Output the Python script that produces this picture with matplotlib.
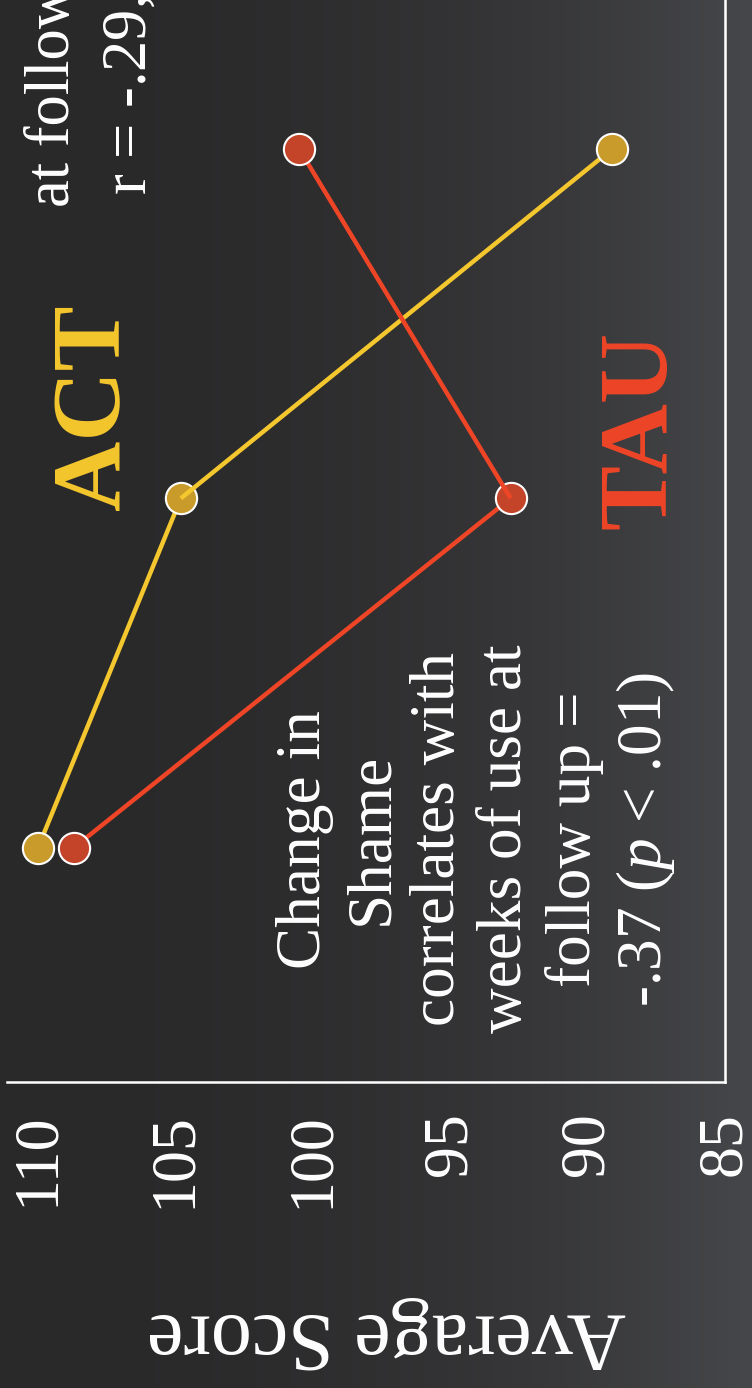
import numpy as np
import matplotlib
matplotlib.use("Agg")
import matplotlib.pyplot as plt

# ---------------- data ----------------
timepoints = [0, 1, 2]                 # assessment occasions (baseline, post, follow-up)
act_scores = [110.0, 104.8, 89.1]      # ACT group average score
tau_scores = [108.7, 92.8, 100.5]      # TAU group average score
score_ticks = [110, 105, 100, 95, 90, 85]
score_tick_labels = ["110", "105", "100", "95", "90", "85"]
group_names = ["ACT", "TAU"]
note_main = "Change in\nShame\ncorrelates with\nweeks of use at\nfollow up =\n-.37 ($p$ < .01)"
note_top_line1 = "at follow up"
note_top_line2 = "r = -.29, ($p$ < .05)"

# ---------------- style ----------------
ACT_LINE = "#F5C72E"
ACT_FILL = "#C99B2B"
TAU_LINE = "#EE4527"
TAU_FILL = "#C4442A"
SERIF = ["Liberation Serif", "DejaVu Serif"]
plt.rcParams["font.family"] = SERIF
plt.rcParams["mathtext.fontset"] = "custom"
plt.rcParams["mathtext.it"] = "Liberation Serif:italic"
plt.rcParams["mathtext.rm"] = "Liberation Serif"

W, H = 752, 1388
fig = plt.figure(figsize=(W / 100, H / 100), dpi=100)

# background gradient (dark grey, lighter to the right)
bg = fig.add_axes([0, 0, 1, 1], zorder=-5)
xs = np.linspace(0, 1, 400) ** 2.2
left = np.array([42, 41, 42]) / 255.0
right = np.array([70, 71, 74]) / 255.0
grad = left[None, None, :] + (right - left)[None, None, :] * xs[None, :, None]
bg.imshow(grad, aspect="auto", extent=[0, 1, 0, 1], interpolation="bilinear")
bg.set_axis_off()

# main axes (chart drawn rotated: score runs horizontally, time vertically)
ax_left_px, ax_right_px = 7, 725
ax_bottom_px = H - 1082
ax = fig.add_axes([ax_left_px / W, ax_bottom_px / H,
                   (ax_right_px - ax_left_px) / W, 1 - ax_bottom_px / H])
ax.set_facecolor("none")

ppu = 27.52  # pixels per score unit
ax.set_xlim(110 + (38 - ax_left_px) / ppu, 110 - (ax_right_px - 38) / ppu)
ax.set_ylim(-0.670, -0.670 + (H - ax_bottom_px) / 349.5)


def draw_series(scores, line_c, fill_c):
    n = len(scores)
    for k in range(n - 1):
        ax.plot(scores[k:k + 2], timepoints[k:k + 2], color=line_c, lw=3.2,
                solid_capstyle="butt", zorder=2 + 2 * k)
    for i in range(n):
        ax.plot([scores[i]], [timepoints[i]], marker="o", ms=22.5,
                mfc=fill_c, mec="white", mew=1.5, ls="none",
                zorder=3 + 2 * max(i - 1, 0))


draw_series(act_scores, ACT_LINE, ACT_FILL)
draw_series(tau_scores, TAU_LINE, TAU_FILL)

# spines
for s in ["top", "left"]:
    ax.spines[s].set_visible(False)
for s in ["bottom", "right"]:
    ax.spines[s].set_color("white")
    ax.spines[s].set_linewidth(1.8)

ax.set_xticks(score_ticks)
ax.set_xticklabels(score_tick_labels, rotation=90, fontsize=46, color="white")
ax.tick_params(axis="x", length=0, pad=22)
ax.set_yticks([])

ax.set_xlabel("Average Score", rotation=180, fontsize=59, color="white")
ax.xaxis.set_label_coords((387 - ax_left_px) / (ax_right_px - ax_left_px),
                          -(1334 - 1082) / 1082)
ax.xaxis.label.set_va("center")

# group labels
ax.text(107.88, 1.261, group_names[0], rotation=90, rotation_mode="anchor",
        ha="center", va="center", fontsize=70, fontweight="bold", color=ACT_LINE)
ax.text(88.04, 1.195, group_names[1], rotation=90, rotation_mode="anchor",
        ha="center", va="center", fontsize=70, fontweight="bold", color=TAU_LINE)

# annotations
ax.text(94.05, 0.025, note_main, rotation=90, rotation_mode="anchor",
        ha="center", va="center", multialignment="center",
        fontsize=45.5, color="white", linespacing=1.21)
ax.text(109.45, 1.834, note_top_line1, rotation=90, rotation_mode="anchor",
        ha="left", va="center", fontsize=45, color="white", clip_on=True)
ax.text(106.62, 1.868, note_top_line2, rotation=90, rotation_mode="anchor",
        ha="left", va="center", fontsize=45, color="white", clip_on=True)

fig.savefig("out.png", dpi=100)
